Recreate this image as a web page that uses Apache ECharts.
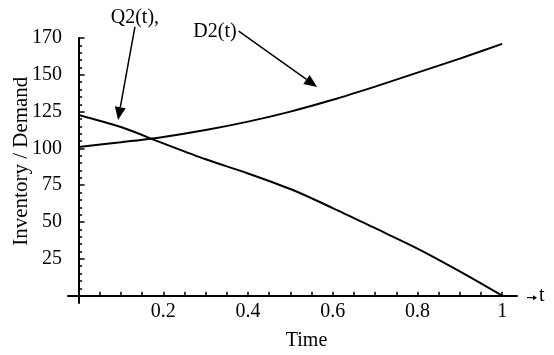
<!DOCTYPE html>
<html>
<head>
<meta charset="utf-8">
<script src="https://cdn.jsdelivr.net/npm/echarts@6/dist/echarts.min.js"></script>
<style>
  html, body { margin: 0; padding: 0; background: #fff; }
  #chart { width: 554px; height: 355px; }
</style>
</head>
<body>
<div id="chart"></div>
<script>
// Time samples and the two curves
const timeValues = [0, 0.1, 0.2, 0.3, 0.4, 0.5, 0.6, 0.7, 0.8, 0.9, 1.0];
const q2Values = [122.7, 114.5, 103.4, 92.6, 83.0, 72.4, 59.5, 45.8, 32.0, 16.5, 0];
const d2Values = [101.0, 104.2, 107.8, 112.5, 118.2, 125.0, 133.0, 142.0, 151.5, 161.0, 171.0];

// Axis ticks and labels
const xLabelValues = [0.2, 0.4, 0.6, 0.8, 1];
const xLabelTexts = ['0.2', '0.4', '0.6', '0.8', '1'];
const xTickValues = [0.05, 0.1, 0.15, 0.2, 0.25, 0.3, 0.35, 0.4, 0.45, 0.5,
                     0.55, 0.6, 0.65, 0.7, 0.75, 0.8, 0.85, 0.9, 0.95, 1];
const yLabelValues = [25, 50, 75, 100, 125, 150, 175];
const yLabelTexts = ['25', '50', '75', '100', '125', '150', '170'];
const yMinorTickValues = [5, 10, 15, 20, 30, 35, 40, 45, 55, 60, 65, 70, 80, 85, 90, 95,
                          105, 110, 115, 120, 130, 135, 140, 145, 155, 160, 165, 170];

// Curve call-outs: label text, label anchor, arrow start and arrow tip (data space)
const calloutTexts = ['Q2(t),', 'D2(t)'];
const calloutLabelAt = [[0.133, 189], [0.322, 179]];
const calloutFrom = [[0.133, 182.5], [0.378, 179.7]];
const calloutTo = [[0.093, 119.3], [0.563, 141.7]];

const FONT = '"Liberation Serif", "Times New Roman", serif';
const pair = (xs, ys) => xs.map((x, i) => [x, ys[i]]);
const fmt = (vals, texts) => v => {
  const i = vals.findIndex(u => Math.abs(u - v) < 1e-9);
  return i < 0 ? '' : texts[i];
};

const chart = echarts.init(document.getElementById('chart'), null, { renderer: 'canvas' });

chart.setOption({
  backgroundColor: '#fff',
  animation: false,
  grid: { left: 68, right: 37, top: 38, bottom: 52, containLabel: false, outerBoundsMode: 'none' },
  xAxis: {
    type: 'value',
    min: -0.025,
    max: 1.035,
    axisLine: { show: true, onZero: true, onZeroAxisIndex: 0, lineStyle: { color: '#000', width: 2 } },
    axisTick: { show: true, inside: true, length: 4, customValues: xTickValues,
                lineStyle: { color: '#000', width: 1.5 } },
    axisLabel: { customValues: xLabelValues, formatter: fmt(xLabelValues, xLabelTexts),
                 color: '#000', fontFamily: FONT, fontSize: 20, margin: -1 },
    splitLine: { show: false },
    name: 'Time',
    nameLocation: 'middle',
    nameGap: 28,
    nameTextStyle: { color: '#000', fontFamily: FONT, fontSize: 20, padding: [0, 0, 0, 28] }
  },
  yAxis: [{
    type: 'value',
    position: 'left',
    min: -5,
    max: 175,
    axisLine: { show: true, onZero: true, onZeroAxisIndex: 0, lineStyle: { color: '#000', width: 2 } },
    axisTick: { show: true, inside: true, length: 6, customValues: yLabelValues,
                lineStyle: { color: '#000', width: 1.5 } },
    axisLabel: { customValues: yLabelValues, formatter: fmt(yLabelValues, yLabelTexts),
                 color: '#000', fontFamily: FONT, fontSize: 20, margin: 6, padding: [4, 0, 0, 0] },
    splitLine: { show: false }
  }, {
    type: 'value',
    position: 'left',
    min: -5,
    max: 175,
    axisLine: { show: true, onZero: true, onZeroAxisIndex: 0,
                lineStyle: { color: '#000', width: 0, opacity: 0 } },
    axisTick: { show: true, inside: true, length: 3.5, customValues: yMinorTickValues,
                lineStyle: { color: '#000', width: 1.5 } },
    axisLabel: { show: false },
    splitLine: { show: false }
  }],
  series: [{
    name: 'Q2(t)',
    type: 'line',
    data: pair(timeValues, q2Values),
    smooth: 0.3,
    showSymbol: false,
    lineStyle: { color: '#000', width: 2 }
  }, {
    name: 'D2(t)',
    type: 'line',
    data: pair(timeValues, d2Values),
    smooth: 0.3,
    showSymbol: false,
    lineStyle: { color: '#000', width: 2 }
  }]
});

// Filled arrow from a to b (pixel space)
function arrow(els, a, b, headLen, headHalf, width) {
  const dx = b[0] - a[0], dy = b[1] - a[1];
  const len = Math.hypot(dx, dy);
  const ux = dx / len, uy = dy / len;
  const base = [b[0] - ux * headLen, b[1] - uy * headLen];
  els.push({
    type: 'line',
    shape: { x1: a[0], y1: a[1], x2: base[0], y2: base[1] },
    style: { stroke: '#000', lineWidth: width }
  });
  els.push({
    type: 'polygon',
    shape: { points: [
      b,
      [base[0] - uy * headHalf, base[1] + ux * headHalf],
      [base[0] + uy * headHalf, base[1] - ux * headHalf]
    ] },
    style: { fill: '#000' }
  });
}

// Call-out labels, axis title and axis-end marker
function annotationGraphics() {
  const els = [];
  const toPx = p => chart.convertToPixel({ gridIndex: 0 }, p);
  calloutTexts.forEach((txt, i) => {
    const lp = toPx(calloutLabelAt[i]);
    els.push({
      type: 'text',
      x: lp[0], y: lp[1],
      style: { text: txt, fill: '#000', font: '20px ' + FONT, align: 'center', verticalAlign: 'middle' }
    });
    arrow(els, toPx(calloutFrom[i]), toPx(calloutTo[i]), 13, 5.5, 1.5);
  });

  // vertical axis title, centred a little above the middle of the value axis
  const mid = toPx([0, 92]);
  els.push({
    type: 'text',
    x: mid[0] - 57, y: mid[1] + 1,
    rotation: Math.PI / 2,
    style: { text: 'Inventory / Demand', fill: '#000', font: '21px ' + FONT,
             align: 'center', verticalAlign: 'middle' }
  });

  // small arrow and variable name past the end of the time axis
  const endPx = toPx([1.035, 0]);
  arrow(els, [endPx[0] + 10, endPx[1] + 2], [endPx[0] + 20, endPx[1] + 2], 4, 2.5, 1.2);
  els.push({
    type: 'text',
    x: endPx[0] + 22, y: endPx[1],
    style: { text: 't', fill: '#000', font: '20px ' + FONT, align: 'left', verticalAlign: 'middle' }
  });
  return els;
}

chart.setOption({ graphic: annotationGraphics() });
</script>
</body>
</html>
